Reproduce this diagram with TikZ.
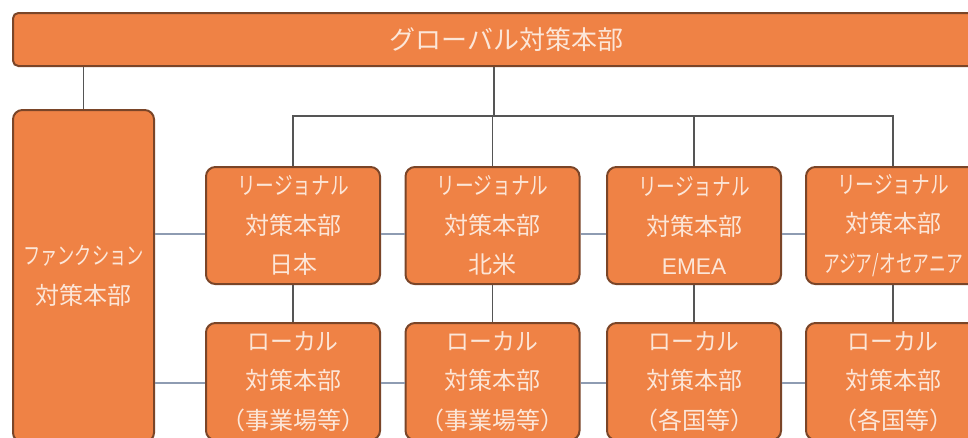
\documentclass[tikz,border=0pt]{standalone}
\usepackage{fontspec}
\usepackage{graphicx}
\newfontfamily\cjk{Noto Sans CJK JP}
\definecolor{boxfill}{HTML}{EF8245}
\definecolor{boxedge}{HTML}{7A4528}
\definecolor{boxtext}{HTML}{FCE6D8}
\definecolor{vline}{HTML}{555555}
\definecolor{hline}{HTML}{8E9CB2}
\tikzset{
  orgbox/.style={draw=boxedge, line width=1.5pt, fill=boxfill, rounded corners=7pt,
    text=boxtext, align=center, inner sep=0pt,
    font=\cjk\fontsize{18}{29.6}\selectfont},
  regbox/.style={orgbox, minimum width=130.5pt, minimum height=87.75pt},
  vconn/.style={draw=vline, line width=1.4pt},
  hconn/.style={draw=hline, line width=1.6pt},
}
\newcommand{\kn}[2]{\scalebox{#1}[1]{#2}}
\begin{document}
\begin{tikzpicture}[x=0.75pt,y=-0.75pt]
\useasboundingbox (0,0) rectangle (968,437);
\clip (0,0) rectangle (968,437);
\fill[white] (0,0) rectangle (968,437);

\coordinate (bus) at (494,116);
\coordinate (rowA) at (0,234);
\coordinate (rowB) at (0,383);

\node[orgbox, rounded corners=4pt, minimum width=740.25pt, minimum height=39.75pt,
  font=\cjk\fontsize{19.5}{24}\selectfont] (top) at (506.5,39.5) {グローバル対策本部};

\node[orgbox, minimum width=105.75pt, minimum height=249pt,
  font=\cjk\fontsize{18}{30}\selectfont] (func) at (83.5,276) {\kn{0.72}{ファンクション}\\対策本部};

\node[regbox] (r1) at (293,225.5) {\kn{0.78}{リージョナル}\\対策本部\\日本};
\node[regbox] (r2) at (492.5,225.5) {\kn{0.78}{リージョナル}\\対策本部\\北米};
\node[regbox] (r3) at (694,225.5) {\kn{0.78}{リージョナル}\\対策本部\\{\fontspec{Liberation Sans}\fontsize{17}{29.6}\selectfont EMEA}};
\node[regbox] (r4) at (893,225.5) {\kn{0.78}{リージョナル}\\対策本部\\\kn{0.7}{アジア/オセアニア}};

\node[regbox] (l1) at (293,381.5) {\kn{0.95}{ローカル}\\対策本部\\（事業場等）};
\node[regbox] (l2) at (492.5,381.5) {\kn{0.95}{ローカル}\\対策本部\\（事業場等）};
\node[regbox] (l3) at (694,381.5) {\kn{0.95}{ローカル}\\対策本部\\（各国等）};
\node[regbox] (l4) at (893,381.5) {\kn{0.95}{ローカル}\\対策本部\\（各国等）};

% vertical connectors
\draw[vconn] (top.south -| func.north) -- (func.north);
\draw[vconn] (top.south -| bus) -- (bus);
\draw[vconn] (r1.north) -- (r1.north |- bus) -- (r4.north |- bus) -- (r4.north);
\draw[vconn] (r2.north) -- (r2.north |- bus);
\draw[vconn] (r3.north) -- (r3.north |- bus);
\draw[vconn] (r1.south) -- (l1.north);
\draw[vconn] (r2.south) -- (l2.north);
\draw[vconn] (r3.south) -- (l3.north);
\draw[vconn] (r4.south) -- (l4.north);

% horizontal connectors
\draw[hconn] (func.east |- rowA) -- (r1.west |- rowA);
\draw[hconn] (r1.east |- rowA) -- (r2.west |- rowA);
\draw[hconn] (r2.east |- rowA) -- (r3.west |- rowA);
\draw[hconn] (r3.east |- rowA) -- (r4.west |- rowA);
\draw[hconn] (func.east |- rowB) -- (l1.west |- rowB);
\draw[hconn] (l1.east |- rowB) -- (l2.west |- rowB);
\draw[hconn] (l2.east |- rowB) -- (l3.west |- rowB);
\draw[hconn] (l3.east |- rowB) -- (l4.west |- rowB);
\end{tikzpicture}
\end{document}
